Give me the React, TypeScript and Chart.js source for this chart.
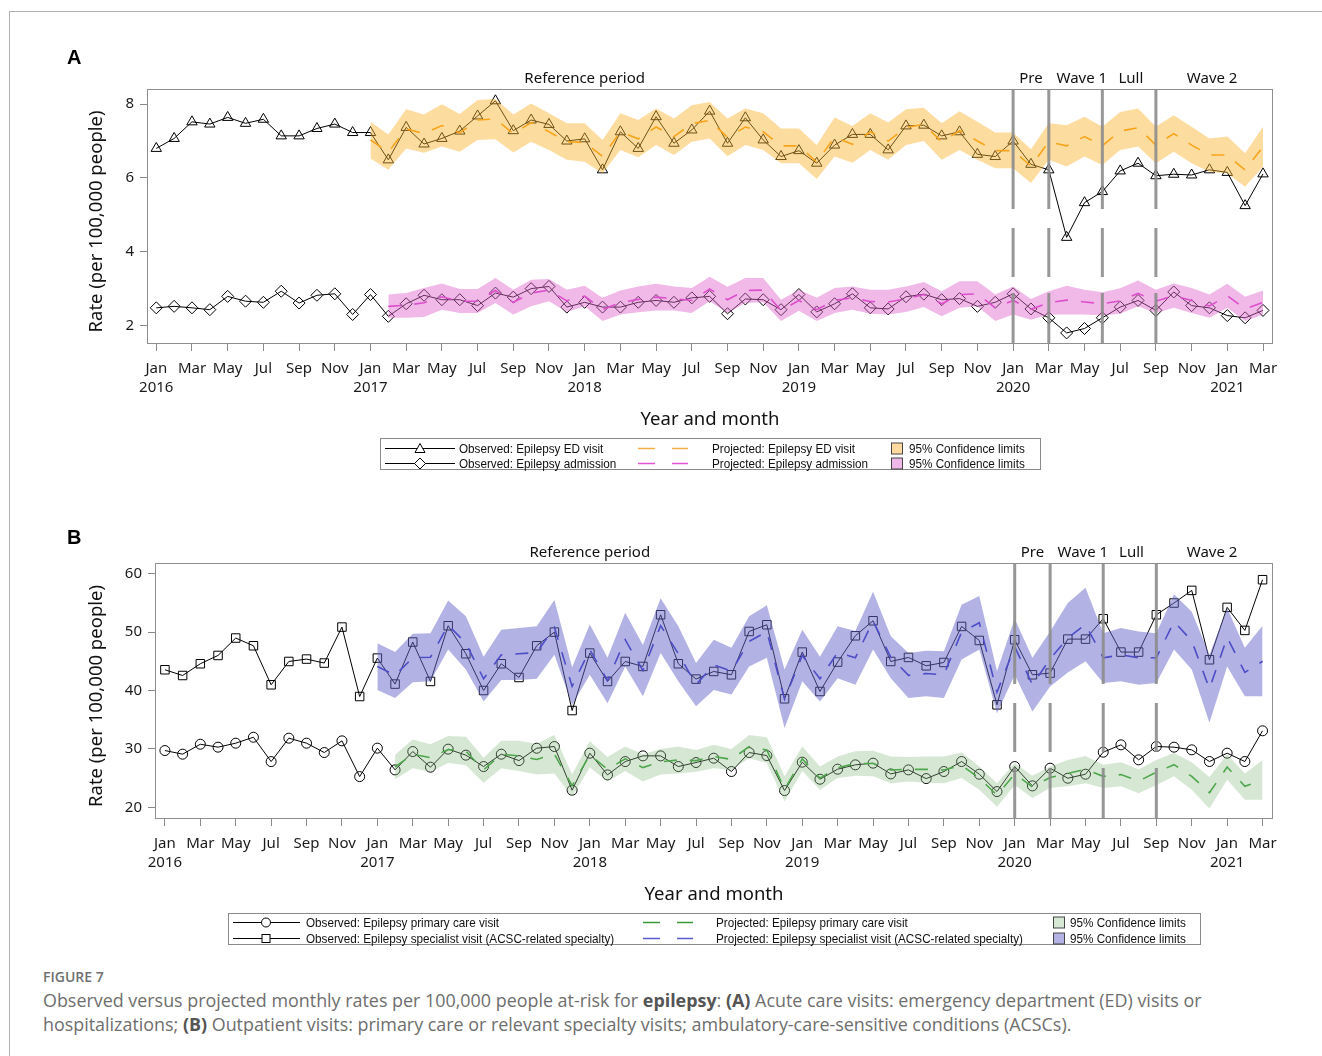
import React, { useEffect, useRef } from "react";
import { Chart, registerables } from "chart.js";

Chart.register(...registerables);

// ---------------- Axis / period labels ----------------
const TICK_INDEX = [0, 2, 4, 6, 8, 10, 12, 14, 16, 18, 20, 22, 24, 26, 28, 30, 32, 34, 36, 38, 40, 42, 44, 46, 48, 50, 52, 54, 56, 58, 60, 62];
const TICK_MONTH = ["Jan", "Mar", "May", "Jul", "Sep", "Nov", "Jan", "Mar", "May", "Jul", "Sep", "Nov", "Jan", "Mar", "May", "Jul", "Sep", "Nov", "Jan", "Mar", "May", "Jul", "Sep", "Nov", "Jan", "Mar", "May", "Jul", "Sep", "Nov", "Jan", "Mar"];
const TICK_YEAR = ["2016", "", "", "", "", "", "2017", "", "", "", "", "", "2018", "", "", "", "", "", "2019", "", "", "", "", "", "2020", "", "", "", "", "", "2021", ""];
const PERIOD_BREAKS = [48, 50, 53, 56];
const PERIOD_NAMES = ["Reference period", "Pre", "Wave 1", "Lull", "Wave 2"];
const PERIOD_CENTERS = [24, 49, 51.85, 54.6, 59.15];

// ---------------- Panel A: acute care (Jan 2016 .. Mar 2021) ----------------
const ED_OBS = [6.80, 7.07, 7.52, 7.46, 7.64, 7.48, 7.59, 7.14, 7.14, 7.34, 7.46, 7.23,
  7.23, 6.49, 7.37, 6.92, 7.07, 7.27, 7.68, 8.09, 7.28, 7.57, 7.45, 7.00,
  7.06, 6.22, 7.25, 6.80, 7.66, 6.94, 7.30, 7.81, 6.94, 7.63, 7.03, 6.58,
  6.74, 6.40, 6.89, 7.18, 7.18, 6.76, 7.41, 7.43, 7.14, 7.25, 6.64, 6.58,
  7.00, 6.37, 6.22, 4.39, 5.33, 5.63, 6.19, 6.40, 6.06, 6.10, 6.08, 6.22,
  6.15, 5.25, 6.11];
const ADM_OBS = [2.48, 2.52, 2.48, 2.43, 2.79, 2.66, 2.63, 2.93, 2.61, 2.82, 2.86, 2.30,
  2.84, 2.25, 2.59, 2.82, 2.70, 2.70, 2.54, 2.88, 2.77, 3.00, 3.06, 2.50,
  2.63, 2.50, 2.50, 2.63, 2.68, 2.63, 2.75, 2.79, 2.32, 2.72, 2.70, 2.43,
  2.84, 2.37, 2.59, 2.86, 2.48, 2.45, 2.78, 2.85, 2.70, 2.73, 2.52, 2.63,
  2.86, 2.45, 2.21, 1.80, 1.92, 2.21, 2.50, 2.68, 2.41, 2.91, 2.54, 2.48,
  2.27, 2.21, 2.41];

const ED_PROJ_START = 12;
const ED_PROJ = [7.03, 6.70, 7.33, 7.20, 7.42, 7.22, 7.57, 7.60, 7.20, 7.50, 7.25, 6.98, 6.96, 6.58, 7.25, 7.06, 7.38, 7.12, 7.47, 7.56, 7.10, 7.38, 7.25, 6.87, 6.87, 6.43, 7.11, 6.91, 7.25, 7.00, 7.37, 7.45, 6.98, 7.28, 7.00, 6.74, 6.74, 6.32, 6.98, 6.87, 7.12, 6.87, 7.27, 7.36, 6.89, 7.20, 6.89, 6.62, 6.62, 6.21, 6.85];
const ED_UPPER = [7.52, 7.18, 7.86, 7.72, 8.00, 7.73, 8.11, 8.14, 7.72, 8.02, 7.75, 7.48, 7.48, 7.03, 7.75, 7.57, 7.88, 7.61, 7.97, 8.06, 7.61, 7.88, 7.75, 7.34, 7.34, 6.89, 7.64, 7.41, 7.75, 7.50, 7.86, 7.90, 7.48, 7.81, 7.52, 7.23, 7.23, 6.78, 7.48, 7.43, 7.66, 7.39, 7.79, 7.88, 7.39, 7.70, 7.39, 7.07, 7.12, 6.67, 7.39];
const ED_LOWER = [6.53, 6.22, 6.80, 6.68, 6.85, 6.71, 7.03, 7.05, 6.69, 6.98, 6.76, 6.49, 6.44, 6.13, 6.76, 6.56, 6.89, 6.62, 6.98, 7.07, 6.59, 6.89, 6.76, 6.40, 6.40, 5.97, 6.58, 6.41, 6.76, 6.49, 6.89, 7.00, 6.49, 6.76, 6.49, 6.26, 6.26, 5.86, 6.49, 6.31, 6.58, 6.35, 6.76, 6.85, 6.40, 6.71, 6.40, 6.17, 6.13, 5.76, 6.31];

const ADM_PROJ_START = 13;
const ADM_PROJ = [2.52, 2.55, 2.62, 2.78, 2.66, 2.66, 2.95, 2.63, 2.88, 2.96, 2.67, 2.80, 2.43, 2.62, 2.71, 2.77, 2.73, 2.68, 2.99, 2.70, 2.95, 2.96, 2.41, 2.68, 2.43, 2.68, 2.75, 2.65, 2.64, 2.72, 2.84, 2.59, 2.84, 2.86, 2.48, 2.68, 2.44, 2.62, 2.69, 2.64, 2.59, 2.67, 2.87, 2.66, 2.81, 2.68, 2.53, 2.81, 2.45, 2.63];
const ADM_UPPER = [2.84, 2.88, 3.02, 3.14, 2.99, 2.99, 3.29, 2.97, 3.24, 3.26, 2.97, 3.08, 2.75, 2.95, 3.06, 3.13, 3.06, 3.02, 3.32, 3.05, 3.29, 3.29, 2.70, 2.97, 2.75, 3.02, 3.06, 2.97, 2.97, 3.06, 3.18, 2.93, 3.20, 3.20, 2.84, 3.06, 2.72, 2.93, 3.08, 2.97, 2.90, 3.01, 3.22, 2.97, 3.14, 3.02, 2.84, 3.13, 2.78, 2.95];
const ADM_LOWER = [2.21, 2.21, 2.23, 2.43, 2.34, 2.34, 2.61, 2.30, 2.52, 2.66, 2.37, 2.52, 2.12, 2.30, 2.36, 2.41, 2.41, 2.34, 2.66, 2.34, 2.61, 2.63, 2.12, 2.40, 2.12, 2.34, 2.43, 2.32, 2.30, 2.37, 2.50, 2.25, 2.48, 2.52, 2.12, 2.30, 2.16, 2.30, 2.30, 2.30, 2.27, 2.32, 2.52, 2.34, 2.48, 2.34, 2.21, 2.48, 2.12, 2.30];

// ---------------- Panel B: outpatient (Jan 2016 .. Mar 2021) ----------------
const SPEC_OBS = [43.55, 42.57, 44.58, 46.0, 48.98, 47.66, 40.98, 44.97, 45.38, 44.7, 50.86, 38.97,
  45.55, 41.1, 48.3, 41.55, 51.09, 46.29, 40.0, 44.58, 42.23, 47.66, 50.0, 36.57,
  46.41, 41.55, 44.97, 44.12, 52.97, 44.58, 41.95, 43.26, 42.69, 50.11, 51.26, 38.58,
  46.58, 39.83, 44.87, 49.37, 51.94, 44.97, 45.66, 44.23, 44.8, 50.97, 48.57, 37.55,
  48.69, 42.69, 42.98, 48.8, 48.8, 52.29, 46.58, 46.58, 52.97, 54.98, 57.14, 45.26,
  54.23, 50.29, 58.97];
const PC_OBS = [29.72, 29.1, 30.8, 30.3, 30.98, 32.0, 27.83, 31.84, 30.98, 29.38, 31.38, 25.26,
  30.13, 26.41, 29.55, 26.87, 29.96, 28.93, 26.98, 29.1, 28.0, 30.12, 30.41, 22.93,
  29.27, 25.55, 27.83, 28.81, 28.81, 26.98, 27.67, 28.41, 26.13, 29.38, 28.86, 22.87,
  27.73, 24.81, 26.53, 27.27, 27.56, 25.72, 26.41, 24.92, 26.13, 27.84, 25.67, 22.7,
  26.98, 23.67, 26.7, 24.98, 25.67, 29.44, 30.7, 28.13, 30.41, 30.3, 29.84, 27.84,
  29.27, 27.84, 33.1];

const SPEC_PROJ_START = 12;
const SPEC_PROJ = [44.1, 42.6, 45.6, 45.7, 51.2, 48.1, 42.0, 46.1, 46.3, 46.5, 50.8, 40.7, 47.0, 41.7, 48.7, 43.4, 51.1, 46.3, 41.0, 44.4, 43.3, 48.4, 50.1, 38.5, 46.0, 42.0, 46.5, 45.6, 51.9, 45.7, 42.6, 42.9, 42.7, 50.0, 51.6, 39.7, 47.5, 41.0, 45.4, 49.0, 51.3, 45.6, 46.1, 45.6, 45.6, 51.8, 48.5, 40.3, 49.1, 43.1, 45.0];
const SPEC_UPPER = [48.1, 46.6, 49.7, 49.8, 55.4, 52.7, 45.8, 50.4, 50.7, 51.0, 55.5, 44.0, 51.3, 45.6, 53.3, 47.8, 55.8, 51.0, 44.7, 48.7, 47.3, 52.7, 54.6, 43.6, 50.4, 45.8, 51.0, 50.2, 56.9, 49.3, 46.4, 46.8, 46.7, 54.7, 56.2, 43.3, 52.3, 45.6, 50.1, 55.0, 57.6, 49.8, 50.7, 50.1, 49.8, 56.5, 53.5, 46.1, 54.1, 47.3, 51.1];
const SPEC_LOWER = [40.1, 38.7, 41.4, 41.6, 47.0, 43.6, 38.1, 41.8, 41.8, 42.0, 46.1, 37.5, 42.7, 37.8, 44.1, 39.0, 46.4, 41.6, 37.3, 40.1, 39.3, 44.1, 45.6, 33.6, 41.6, 38.1, 42.1, 41.0, 47.0, 42.1, 38.7, 39.0, 38.7, 45.3, 47.0, 36.1, 42.7, 36.4, 40.7, 43.1, 45.0, 41.3, 41.6, 41.0, 41.3, 47.0, 43.6, 34.5, 44.1, 39.0, 39.0];

const PC_PROJ_START = 13;
const PC_PROJ = [26.9, 29.1, 28.5, 29.9, 29.6, 26.4, 29.1, 28.8, 28.2, 29.1, 23.7, 29.0, 26.5, 28.3, 26.8, 27.8, 28.1, 28.0, 28.7, 28.2, 30.4, 29.8, 23.1, 28.3, 25.0, 26.8, 27.5, 27.5, 26.4, 26.5, 26.5, 26.4, 27.2, 25.0, 22.1, 25.7, 23.5, 25.1, 25.8, 26.5, 25.3, 25.6, 24.5, 26.0, 27.3, 25.3, 22.5, 26.9, 23.6, 24.7];
const PC_UPPER = [29.0, 31.6, 30.8, 32.2, 32.1, 28.5, 31.4, 31.4, 30.9, 32.4, 25.6, 31.3, 28.6, 30.4, 29.1, 30.0, 30.4, 29.8, 30.7, 30.0, 32.4, 32.0, 25.3, 30.4, 27.0, 28.7, 29.6, 29.7, 28.7, 28.6, 28.7, 28.7, 29.4, 27.0, 24.1, 27.6, 25.4, 27.0, 28.1, 28.8, 27.3, 27.7, 26.5, 28.1, 29.3, 27.7, 25.2, 29.1, 25.8, 28.1];
const PC_LOWER = [24.8, 26.7, 26.1, 27.6, 27.2, 24.2, 26.7, 26.2, 25.6, 25.8, 21.8, 26.8, 24.4, 26.2, 24.4, 25.6, 25.8, 26.1, 26.7, 26.4, 28.4, 27.6, 21.0, 26.2, 23.0, 25.0, 25.4, 25.3, 24.1, 24.4, 24.2, 24.1, 25.0, 23.0, 20.1, 23.8, 21.6, 23.3, 23.6, 24.1, 23.3, 23.6, 22.4, 23.8, 25.3, 23.0, 19.8, 24.7, 21.3, 21.3];

const A_Y_TICKS = [2, 4, 6, 8];
const B_Y_TICKS = [20, 30, 40, 50, 60];

// ---------------- Colours ----------------
const ORANGE_BAND = "rgba(251,178,44,0.45)";
const ORANGE_LINE = "#f59a0c";
const PINK_BAND = "rgba(222,100,204,0.45)";
const PINK_LINE = "#dc3fcc";
const BLUE_BAND = "rgba(101,101,201,0.5)";
const BLUE_LINE = "#3434c4";
const GREEN_BAND = "rgba(138,189,132,0.35)";
const GREEN_LINE = "#2f9a2f";

const SANS = '"Noto Sans", "Open Sans", sans-serif';

type Band = { start: number; lower: number[]; upper: number[]; fill: string };
type Proj = { start: number; values: number[]; color: string };
type Obs = { values: number[]; style: string; radius: number };
interface PanelSpec {
  xMin: number; xMax: number; yMin: number; yMax: number; yTicks: number[];
  padTop: number; yWidth: number; xHeight: number; height: number;
  bands: Band[]; projs: Proj[]; obs: Obs[];
}

const pts = (start: number, vals: number[]) => vals.map((y, i) => ({ x: start + i, y }));

function buildConfig(spec: PanelSpec): any {
  const datasets: any[] = [];
  spec.bands.forEach((b) => {
    datasets.push({ data: pts(b.start, b.lower), borderWidth: 0, borderColor: "rgba(0,0,0,0)", pointRadius: 0, fill: false, order: 0 });
    datasets.push({ data: pts(b.start, b.upper), borderWidth: 0, borderColor: "rgba(0,0,0,0)", pointRadius: 0, fill: "-1", backgroundColor: b.fill, order: 0 });
  });
  spec.projs.forEach((p) =>
    datasets.push({ data: pts(p.start, p.values), borderColor: p.color, borderWidth: 1.6, borderDash: [13, 13], pointRadius: 0, fill: false, order: 1 })
  );
  spec.obs.forEach((o) =>
    datasets.push({
      data: pts(0, o.values), borderColor: "#000", borderWidth: 1, pointStyle: o.style, pointRadius: o.radius,
      pointBorderColor: "#000", pointBackgroundColor: "rgba(0,0,0,0)", pointBorderWidth: 1, fill: false, order: 2,
    })
  );

  const decor = {
    id: "decor",
    afterDatasetsDraw(chart: any) {
      const { ctx, chartArea: a, scales } = chart;
      const x = scales.x;
      ctx.save();
      ctx.strokeStyle = "rgba(140,140,140,0.9)";
      ctx.lineWidth = 3;
      ctx.setLineDash([51, 16, 49, 19, 2000, 1]);
      PERIOD_BREAKS.forEach((m) => {
        const px = x.getPixelForValue(m);
        ctx.beginPath();
        ctx.moveTo(px, a.bottom);
        ctx.lineTo(px, a.top);
        ctx.stroke();
      });
      ctx.restore();
    },
    afterDraw(chart: any) {
      const { ctx, chartArea: a, scales } = chart;
      const x = scales.x;
      ctx.save();
      ctx.strokeStyle = "#8e8e8e";
      ctx.lineWidth = 1;
      ctx.strokeRect(a.left + 0.5, a.top + 0.5, a.right - a.left - 1, a.bottom - a.top - 1);
      ctx.fillStyle = "#111";
      ctx.font = `15px ${SANS}`;
      ctx.textAlign = "center";
      ctx.textBaseline = "middle";
      PERIOD_NAMES.forEach((t, i) => ctx.fillText(t, x.getPixelForValue(PERIOD_CENTERS[i]), a.top - 10));
      ctx.font = `18.5px ${SANS}`;
      ctx.fillText("Year and month", (a.left + a.right) / 2, a.bottom + 76);
      ctx.translate(97, (a.top + a.bottom) / 2 + 5);
      ctx.rotate(-Math.PI / 2);
      ctx.fillText("Rate (per 100,000 people)", 0, 0);
      ctx.restore();
    },
  };

  const gridOpts = { display: true, drawOnChartArea: false, drawTicks: true, tickLength: 7, color: "#8a8a8a", tickColor: "#8a8a8a", lineWidth: 1 };
  const tickFont = { family: SANS, size: 15, lineHeight: 1.27 };

  return {
    type: "line",
    data: { datasets },
    options: {
      animation: false,
      responsive: false,
      devicePixelRatio: 1,
      events: [],
      layout: { padding: { left: 0, top: spec.padTop, right: 49, bottom: 0 } },
      plugins: { legend: { display: false }, tooltip: { enabled: false }, filler: { propagate: false } },
      elements: { line: { tension: 0 } },
      scales: {
        x: {
          type: "linear", min: spec.xMin, max: spec.xMax,
          afterBuildTicks: (s: any) => { s.ticks = TICK_INDEX.map((v) => ({ value: v })); },
          afterFit: (s: any) => { s.height = spec.xHeight; },
          grid: gridOpts, border: { display: false },
          ticks: {
            autoSkip: false, maxRotation: 0, minRotation: 0, padding: 8, color: "#1a1a1a", font: tickFont,
            callback: (_v: any, i: number) => [TICK_MONTH[i], TICK_YEAR[i]],
          },
        },
        y: {
          type: "linear", min: spec.yMin, max: spec.yMax,
          afterBuildTicks: (s: any) => { s.ticks = spec.yTicks.map((v) => ({ value: v })); },
          afterFit: (s: any) => { s.width = spec.yWidth; },
          grid: gridOpts, border: { display: false },
          ticks: { padding: 6, color: "#1a1a1a", font: tickFont, callback: (v: any) => String(v) },
        },
      },
    },
    plugins: [decor],
  };
}

const PANEL_A: PanelSpec = {
  xMin: -0.52, xMax: 62.56, yMin: 1.5, yMax: 8.41, yTicks: A_Y_TICKS,
  padTop: 89, yWidth: 147, xHeight: 96, height: 440,
  bands: [
    { start: ED_PROJ_START, lower: ED_LOWER, upper: ED_UPPER, fill: ORANGE_BAND },
    { start: ADM_PROJ_START, lower: ADM_LOWER, upper: ADM_UPPER, fill: PINK_BAND },
  ],
  projs: [
    { start: ED_PROJ_START, values: ED_PROJ, color: ORANGE_LINE },
    { start: ADM_PROJ_START, values: ADM_PROJ, color: PINK_LINE },
  ],
  obs: [
    { values: ED_OBS, style: "triangle", radius: 6 },
    { values: ADM_OBS, style: "rectRot", radius: 6 },
  ],
};

const PANEL_B: PanelSpec = {
  xMin: -0.56, xMax: 62.59, yMin: 18.0, yMax: 61.83, yTicks: B_Y_TICKS,
  padTop: 83, yWidth: 155, xHeight: 101, height: 440,
  bands: [
    { start: SPEC_PROJ_START, lower: SPEC_LOWER, upper: SPEC_UPPER, fill: BLUE_BAND },
    { start: PC_PROJ_START, lower: PC_LOWER, upper: PC_UPPER, fill: GREEN_BAND },
  ],
  projs: [
    { start: SPEC_PROJ_START, values: SPEC_PROJ, color: BLUE_LINE },
    { start: PC_PROJ_START, values: PC_PROJ, color: GREEN_LINE },
  ],
  obs: [
    { values: SPEC_OBS, style: "rect", radius: 6 },
    { values: PC_OBS, style: "circle", radius: 5 },
  ],
};

function PanelChart({ spec, top }: { spec: PanelSpec; top: number }) {
  const ref = useRef<HTMLCanvasElement>(null);
  useEffect(() => {
    const chart = new Chart(ref.current as HTMLCanvasElement, buildConfig(spec));
    return () => chart.destroy();
  }, [spec]);
  return (
    <canvas ref={ref} width={1322} height={spec.height}
      style={{ position: "absolute", left: 0, top, width: 1322, height: spec.height }} />
  );
}

// ---------------- Legend ----------------
function Marker({ shape, cx, cy }: { shape: string; cx: number; cy: number }) {
  const common = { fill: "#fff", stroke: "#000", strokeWidth: 1 };
  if (shape === "triangle") return <polygon points={`${cx},${cy - 5} ${cx + 5},${cy + 4} ${cx - 5},${cy + 4}`} {...common} />;
  if (shape === "diamond") return <polygon points={`${cx},${cy - 5.5} ${cx + 5.5},${cy} ${cx},${cy + 5.5} ${cx - 5.5},${cy}`} {...common} />;
  if (shape === "circle") return <circle cx={cx} cy={cy} r={4.5} {...common} />;
  return <rect x={cx - 4} y={cy - 4} width={8} height={8} {...common} />;
}

type LegendRow = { marker: string; obsText: string; color: string; projText: string; swatch: string };
type LegendLayout = {
  left: number; top: number; width: number; height: number; rowY: number[];
  lineX: [number, number]; markerX: number; obsTextX: number; dashes: [number, number][];
  projTextX: number; swatchX: number; swTextX: number;
};

const legendText: React.CSSProperties = {
  position: "absolute", fontFamily: '"Liberation Sans", Arial, sans-serif', fontSize: 13, lineHeight: "14px",
  color: "#111", whiteSpace: "nowrap", transform: "scaleX(0.9)", transformOrigin: "left center",
};

function LegendBox({ layout, rows }: { layout: LegendLayout; rows: LegendRow[] }) {
  const L = layout;
  return (
    <div style={{ position: "absolute", left: L.left, top: L.top, width: L.width, height: L.height, border: "1px solid #8a8a8a", boxSizing: "border-box", background: "transparent" }}>
      <svg width={L.width} height={L.height} style={{ position: "absolute", left: -1, top: -1 }}>
        {rows.map((r, i) => {
          const y = L.rowY[i];
          return (
            <g key={i}>
              <line x1={L.lineX[0]} x2={L.lineX[1]} y1={y} y2={y} stroke="#000" strokeWidth={1} />
              <Marker shape={r.marker} cx={L.markerX} cy={y} />
              {L.dashes.map((d, j) => (
                <line key={j} x1={d[0]} x2={d[1]} y1={y} y2={y} stroke={r.color} strokeWidth={1.5} />
              ))}
              <rect x={L.swatchX + 0.5} y={y - 6 + 0.5} width={11} height={11} fill={r.swatch} stroke="#444" strokeWidth={1} />
            </g>
          );
        })}
      </svg>
      {rows.map((r, i) => (
        <React.Fragment key={i}>
          <span style={{ ...legendText, left: L.obsTextX - 1, top: L.rowY[i] - 8 }}>{r.obsText}</span>
          <span style={{ ...legendText, left: L.projTextX - 1, top: L.rowY[i] - 8 }}>{r.projText}</span>
          <span style={{ ...legendText, left: L.swTextX - 1, top: L.rowY[i] - 8 }}>95% Confidence limits</span>
        </React.Fragment>
      ))}
    </div>
  );
}

const LEGEND_A_ROWS: LegendRow[] = [
  { marker: "triangle", obsText: "Observed: Epilepsy ED visit", color: "#f7ad45", projText: "Projected: Epilepsy ED visit", swatch: "#fddba0" },
  { marker: "diamond", obsText: "Observed: Epilepsy admission", color: "#e456d4", projText: "Projected: Epilepsy admission", swatch: "#f0b8e8" },
];
const LEGEND_B_ROWS: LegendRow[] = [
  { marker: "circle", obsText: "Observed: Epilepsy primary care visit", color: "#3a9a3a", projText: "Projected: Epilepsy primary care visit", swatch: "#d6e8d4" },
  { marker: "square", obsText: "Observed: Epilepsy specialist visit (ACSC-related specialty)", color: "#5a5ad0", projText: "Projected: Epilepsy specialist visit (ACSC-related specialty)", swatch: "#b2b2e4" },
];

const LEGEND_A_LAYOUT: LegendLayout = {
  left: 380, top: 438, width: 661, height: 32, rowY: [10.5, 25.5],
  lineX: [5, 75], markerX: 40, obsTextX: 79, dashes: [[258, 275], [292, 308]],
  projTextX: 332, swatchX: 511, swTextX: 529,
};
const LEGEND_B_LAYOUT: LegendLayout = {
  left: 228, top: 913, width: 973, height: 32, rowY: [9.5, 25.5],
  lineX: [5, 72], markerX: 38, obsTextX: 78, dashes: [[415, 432], [449, 465]],
  projTextX: 488, swatchX: 825, swTextX: 842,
};

export default function App() {
  const letter: React.CSSProperties = { position: "absolute", left: 67, fontFamily: '"Liberation Sans", Arial, sans-serif', fontWeight: 700, fontSize: 20, color: "#000", lineHeight: "22px" };
  const cap: React.CSSProperties = { position: "absolute", left: 43, fontFamily: '"Open Sans", "Noto Sans", sans-serif', fontSize: 17.9, color: "#6e6e6e", whiteSpace: "nowrap", lineHeight: "24px" };
  const b: React.CSSProperties = { fontWeight: 700, color: "#555" };
  return (
    <div style={{ position: "absolute", left: 0, top: 0, width: 1322, height: 1056, background: "#fff", overflow: "hidden" }}>
      <div style={{ position: "absolute", left: 9, top: 11, width: 1400, height: 1100, borderTop: "1px solid #b0b0b0", borderLeft: "1px solid #b0b0b0" }} />
      <PanelChart spec={PANEL_A} top={0} />
      <PanelChart spec={PANEL_B} top={480} />
      <div style={{ ...letter, top: 46 }}>A</div>
      <div style={{ ...letter, top: 526 }}>B</div>
      <LegendBox layout={LEGEND_A_LAYOUT} rows={LEGEND_A_ROWS} />
      <LegendBox layout={LEGEND_B_LAYOUT} rows={LEGEND_B_ROWS} />
      <div style={{ position: "absolute", left: 43, top: 967, fontFamily: '"Open Sans", "Noto Sans", sans-serif', fontWeight: 600, fontSize: 14, color: "#707070", lineHeight: "20px" }}>FIGURE 7</div>
      <div style={{ ...cap, top: 988 }}>
        Observed versus projected monthly rates per 100,000 people at-risk for <span style={b}>epilepsy</span>: <span style={b}>(A)</span> Acute care visits: emergency department (ED) visits or
      </div>
      <div style={{ ...cap, top: 1012 }}>
        hospitalizations; <span style={b}>(B)</span> Outpatient visits: primary care or relevant specialty visits; ambulatory-care-sensitive conditions (ACSCs).
      </div>
    </div>
  );
}
